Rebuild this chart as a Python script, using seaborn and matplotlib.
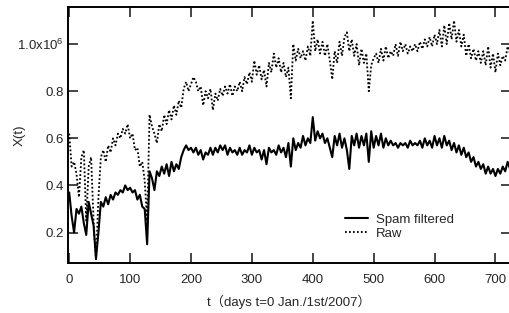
import numpy as np
import pandas as pd
import matplotlib
matplotlib.use("Agg")
import matplotlib.pyplot as plt
import seaborn as sns

# values in units of 1e6, one sample every 4 days
step_days = 4
spam_filtered = [
    0.37, 0.27, 0.20, 0.30, 0.28, 0.31, 0.24, 0.19, 0.33, 0.28,
    0.23, 0.09, 0.20, 0.33, 0.31, 0.35, 0.32, 0.36, 0.34, 0.37,
    0.36, 0.38, 0.37, 0.40, 0.38, 0.39, 0.37, 0.38, 0.34, 0.36,
    0.31, 0.30, 0.15, 0.46, 0.43, 0.38, 0.46, 0.44, 0.48, 0.45,
    0.49, 0.44, 0.50, 0.46, 0.49, 0.47, 0.52, 0.55, 0.57, 0.55,
    0.56, 0.54, 0.56, 0.53, 0.55, 0.51, 0.54, 0.53, 0.56, 0.53,
    0.56, 0.54, 0.57, 0.55, 0.57, 0.53, 0.56, 0.54, 0.55, 0.53,
    0.56, 0.53, 0.55, 0.54, 0.57, 0.53, 0.56, 0.54, 0.55, 0.51,
    0.55, 0.49, 0.56, 0.54, 0.55, 0.53, 0.57, 0.54, 0.56, 0.52,
    0.58, 0.48, 0.60, 0.55, 0.58, 0.56, 0.61, 0.57, 0.60, 0.58,
    0.69, 0.59, 0.63, 0.60, 0.62, 0.58, 0.60, 0.56, 0.52, 0.61,
    0.57, 0.62, 0.56, 0.60, 0.55, 0.47, 0.61, 0.57, 0.62, 0.56,
    0.61, 0.57, 0.62, 0.50, 0.63, 0.56, 0.61, 0.57, 0.62, 0.56,
    0.60, 0.57, 0.59, 0.57, 0.58, 0.56, 0.58, 0.57, 0.58, 0.56,
    0.59, 0.57, 0.58, 0.57, 0.59, 0.56, 0.60, 0.57, 0.59, 0.56,
    0.61, 0.57, 0.60, 0.56, 0.61, 0.57, 0.59, 0.55, 0.58, 0.54,
    0.57, 0.53, 0.56, 0.52, 0.54, 0.50, 0.52, 0.48, 0.50, 0.47,
    0.49, 0.45, 0.48, 0.45, 0.47, 0.44, 0.47, 0.45, 0.48, 0.46,
    0.50, 0.47,
]
raw = [
    0.62, 0.48, 0.50, 0.45, 0.35, 0.52, 0.55, 0.25, 0.48, 0.52,
    0.25, 0.08, 0.35, 0.52, 0.55, 0.50, 0.57, 0.54, 0.60, 0.57,
    0.62, 0.60, 0.64, 0.62, 0.66, 0.60, 0.62, 0.55, 0.56, 0.48,
    0.50, 0.42, 0.25, 0.70, 0.65, 0.62, 0.58, 0.66, 0.63, 0.70,
    0.66, 0.72, 0.68, 0.74, 0.70, 0.76, 0.73, 0.81, 0.84, 0.80,
    0.83, 0.86, 0.84, 0.80, 0.82, 0.74, 0.80, 0.77, 0.81, 0.72,
    0.79, 0.76, 0.81, 0.78, 0.82, 0.79, 0.83, 0.78, 0.82, 0.80,
    0.84, 0.80, 0.86, 0.83, 0.88, 0.84, 0.93, 0.87, 0.91, 0.85,
    0.89, 0.82, 0.92, 0.88, 0.96, 0.90, 0.94, 0.88, 0.92, 0.86,
    0.90, 0.77, 1.00, 0.93, 0.98, 0.94, 0.97, 0.93, 0.99, 0.95,
    1.10, 0.97, 1.02, 0.96, 1.01, 0.95, 1.00, 0.93, 0.85, 0.97,
    0.92, 1.01, 0.95, 1.03, 1.05, 0.97, 1.02, 0.95, 1.00, 0.91,
    0.98, 0.92, 0.96, 0.80, 0.91, 0.94, 0.96, 0.92, 0.98, 0.93,
    0.99, 0.94, 0.97, 0.95, 1.00, 0.95, 1.01, 0.97, 1.00, 0.96,
    0.99, 0.97, 1.00, 0.97, 1.01, 0.98, 1.02, 0.99, 1.03, 0.99,
    1.04, 1.00, 1.06, 0.99, 1.08, 1.00, 1.09, 1.02, 1.10, 1.01,
    1.06, 0.99, 1.04, 0.95, 1.00, 0.94, 0.98, 0.93, 0.97, 0.92,
    0.97, 0.91, 0.99, 0.90, 0.96, 0.88, 0.96, 0.91, 0.95, 0.93,
    0.99, 0.96,
]
days = np.arange(len(spam_filtered)) * step_days

ytick_vals = [0.2, 0.4, 0.6, 0.8, 1.0]
ytick_labels = ["0.2", "0.4", "0.6", "0.8", r"1.0x10$^{6}$"]
xtick_vals = [0, 100, 200, 300, 400, 500, 600, 700]

df = pd.DataFrame({"t": np.concatenate([days, days]),
                   "X": spam_filtered + raw,
                   "series": ["Spam filtered"] * len(days) + ["Raw"] * len(days)})

sns.set_style("ticks")
plt.rcParams['font.family'] = ['Liberation Sans', 'Noto Sans CJK JP', 'DejaVu Sans']
plt.rcParams['mathtext.fontset'] = 'custom'
plt.rcParams['mathtext.rm'] = 'Liberation Sans'
plt.rcParams['mathtext.it'] = 'Liberation Sans'

fig = plt.figure(figsize=(5.10, 3.13), dpi=100)
ax = fig.add_axes([0.1333, 0.16, 0.868, 0.818])

sns.lineplot(data=df, x="t", y="X", style="series", size="series",
             sizes={"Spam filtered": 1.5, "Raw": 1.3}, color="black",
             dashes={"Spam filtered": "", "Raw": (1, 1.2)}, ax=ax)

ax.set_xlim(-2, 725)
ax.set_ylim(0.071, 1.158)
ax.set_xticks(xtick_vals)
ax.set_yticks(ytick_vals)
ax.set_yticklabels(ytick_labels)
ax.tick_params(direction="in", length=7, width=1.2, top=True, right=True,
               labelsize=9.5)
ax.tick_params(axis="x", pad=8)
ax.tick_params(axis="y", pad=3)
for s in ax.spines.values():
    s.set_linewidth(1.4)
    s.set_color("black")

ax.set_xlabel("t（days t=0 Jan./1st/2007）", fontsize=9.5, labelpad=6)
ax.set_ylabel("X(t)", fontsize=9.5)
ax.yaxis.set_label_coords(-0.095, 0.5)

leg = ax.legend(loc="lower left", bbox_to_anchor=(0.6, 0.045), frameon=False,
                fontsize=9.5, handlelength=1.7, handletextpad=0.6,
                labelspacing=0.1, title=None)

fig.savefig("out.png", dpi=100)
